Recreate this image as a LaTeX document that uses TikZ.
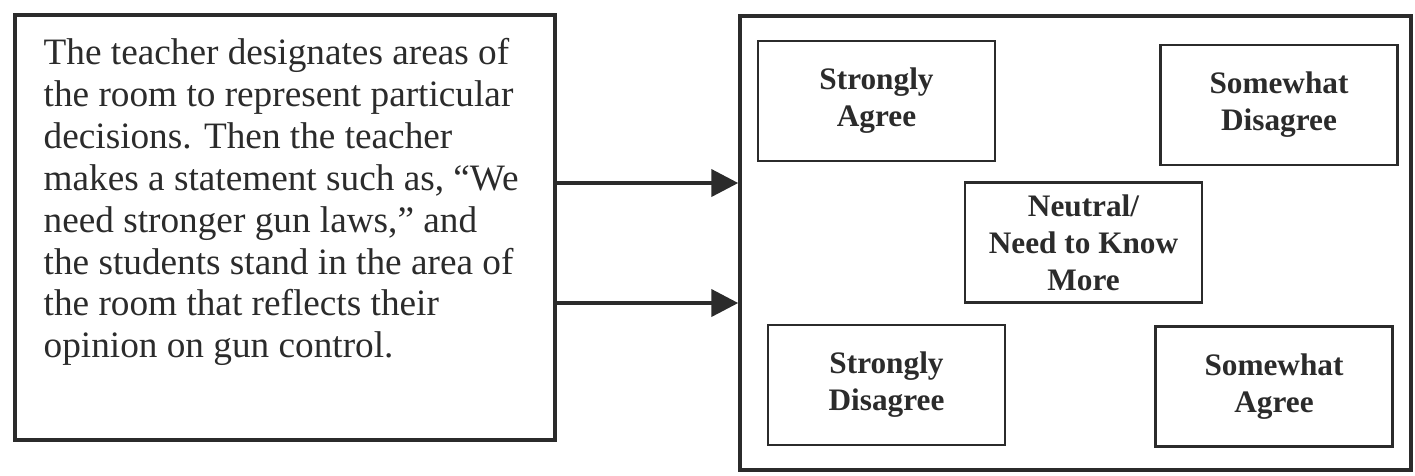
\documentclass[tikz,border=0pt]{standalone}
\usepackage{fontspec}
\setmainfont{Liberation Serif}
\usetikzlibrary{positioning,arrows.meta}

\definecolor{ink}{HTML}{2B2B2B}

\tikzset{
  panel/.style={draw=ink, line width=1pt, rectangle, inner sep=0pt},
  choice/.style={draw=ink, line width=0.7pt, rectangle, minimum width=2.37cm,
    minimum height=1.2cm, align=center, text=ink,
    font=\fontsize{8.9}{10.5}\selectfont\bfseries},
  arr/.style={draw=ink, line width=1.2pt, -{Triangle[length=2.7mm,width=2.7mm]}}
}

\begin{document}
\begin{tikzpicture}
  \useasboundingbox (0,0) rectangle (14.15,-4.75);
  % description of the activity
  \node[panel, minimum width=5.4cm, minimum height=4.25cm] (desc) at (2.85,-2.275) {};
  \node[anchor=north west, align=left, inner sep=0pt, text=ink,
    font=\fontsize{10.6}{11.9}\selectfont] (desctext) at (0.43,-0.38)
    {The teacher designates areas of\\
     the room to represent particular\\
     decisions.  Then the teacher\\
     makes a statement such as, ``We\\
     need stronger gun laws,'' and\\
     the students stand in the area of\\
     the room that reflects their\\
     opinion on gun control.};
  % the room
  \node[panel, minimum width=6.71cm, minimum height=4.54cm] (room) at (10.755,-2.43) {};
  \foreach \n/\x/\y/\t in {sagree/8.765/-1.01/{Strongly\\Agree},
                          wdisagree/12.79/-1.05/{Somewhat\\Disagree},
                          neutral/10.835/-2.425/{Neutral\slash\\Need to Know\\More},
                          sdisagree/8.865/-3.85/{Strongly\\Disagree},
                          wagree/12.74/-3.865/{Somewhat\\Agree}}
    \node[choice] (\n) at (\x,\y) {\t};
  \draw[arr] ([yshift=6mm]room.west -| desc.east) -- ([yshift=6mm]room.west);
  \draw[arr] ([yshift=-6mm]room.west -| desc.east) -- ([yshift=-6mm]room.west);
\end{tikzpicture}
\end{document}
